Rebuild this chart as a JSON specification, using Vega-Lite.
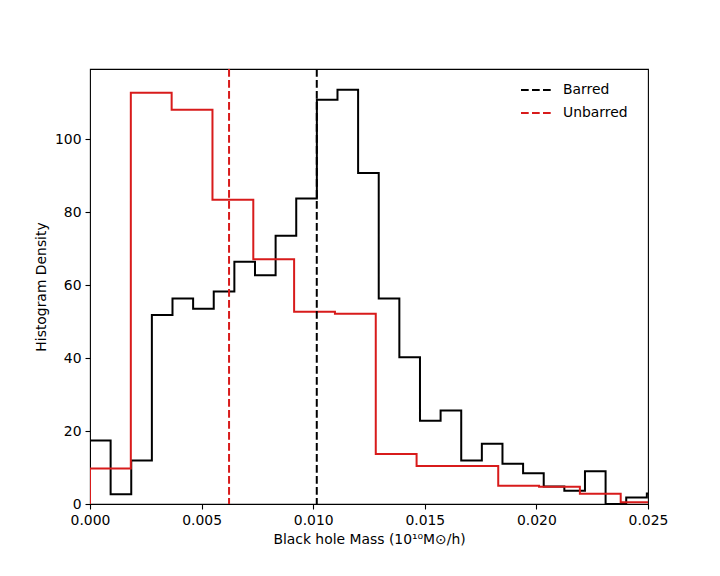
{
  "$schema": "https://vega.github.io/schema/vega-lite/v6.json",
  "width": 558,
  "height": 435,
  "autosize": {"type": "none"},
  "padding": {"left": 90, "top": 69, "right": 72, "bottom": 72},
  "background": "white",
  "config": {
    "font": "DejaVu Sans",
    "view": {"stroke": "black", "strokeWidth": 1.1},
    "axis": {
      "domain": false,
      "grid": false,
      "labelFlush": false,
      "tickColor": "black",
      "tickSize": 5,
      "tickWidth": 1.1,
      "labelColor": "black",
      "labelFontSize": 13.9,
      "labelPadding": 4,
      "titleColor": "black",
      "titleFontSize": 13.9,
      "titleFontWeight": "normal"
    },
    "legend": {
      "labelFontSize": 13.9,
      "labelColor": "black"
    }
  },
  "datasets": {
    "hist": [
      {"series": "Barred", "x": 0, "density": 0},
      {"series": "Barred", "x": 0, "density": 17.4},
      {"series": "Barred", "x": 0.000924, "density": 2.7},
      {"series": "Barred", "x": 0.001848, "density": 11.9},
      {"series": "Barred", "x": 0.002772, "density": 51.8},
      {"series": "Barred", "x": 0.003696, "density": 56.3},
      {"series": "Barred", "x": 0.00462, "density": 53.5},
      {"series": "Barred", "x": 0.005544, "density": 58.2},
      {"series": "Barred", "x": 0.006468, "density": 66.4},
      {"series": "Barred", "x": 0.007392, "density": 62.7},
      {"series": "Barred", "x": 0.008316, "density": 73.5},
      {"series": "Barred", "x": 0.00924, "density": 83.7},
      {"series": "Barred", "x": 0.010164, "density": 110.8},
      {"series": "Barred", "x": 0.011088, "density": 113.5},
      {"series": "Barred", "x": 0.012012, "density": 90.7},
      {"series": "Barred", "x": 0.012936, "density": 56.3},
      {"series": "Barred", "x": 0.01386, "density": 40.2},
      {"series": "Barred", "x": 0.014784, "density": 22.8},
      {"series": "Barred", "x": 0.015708, "density": 25.6},
      {"series": "Barred", "x": 0.016632, "density": 11.9},
      {"series": "Barred", "x": 0.017556, "density": 16.5},
      {"series": "Barred", "x": 0.01848, "density": 11.0},
      {"series": "Barred", "x": 0.019404, "density": 8.4},
      {"series": "Barred", "x": 0.020328, "density": 4.8},
      {"series": "Barred", "x": 0.021252, "density": 3.6},
      {"series": "Barred", "x": 0.022176, "density": 9.0},
      {"series": "Barred", "x": 0.0231, "density": 0},
      {"series": "Barred", "x": 0.024024, "density": 1.8},
      {"series": "Barred", "x": 0.024948, "density": 2.9},
      {"series": "Barred", "x": 0.025872, "density": 2.9},
      {"series": "Barred", "x": 0.025872, "density": 0},
      {"series": "Unbarred", "x": 0, "density": 0},
      {"series": "Unbarred", "x": 0, "density": 9.7},
      {"series": "Unbarred", "x": 0.001829, "density": 112.7},
      {"series": "Unbarred", "x": 0.003658, "density": 108.0},
      {"series": "Unbarred", "x": 0.005487, "density": 83.4},
      {"series": "Unbarred", "x": 0.007316, "density": 67.1},
      {"series": "Unbarred", "x": 0.009145, "density": 52.7},
      {"series": "Unbarred", "x": 0.010974, "density": 52.1},
      {"series": "Unbarred", "x": 0.012803, "density": 13.7},
      {"series": "Unbarred", "x": 0.014632, "density": 10.4},
      {"series": "Unbarred", "x": 0.016461, "density": 10.4},
      {"series": "Unbarred", "x": 0.01829, "density": 5.0},
      {"series": "Unbarred", "x": 0.020119, "density": 4.7},
      {"series": "Unbarred", "x": 0.021948, "density": 2.8},
      {"series": "Unbarred", "x": 0.023777, "density": 0.5},
      {"series": "Unbarred", "x": 0.025606, "density": 0.5},
      {"series": "Unbarred", "x": 0.025606, "density": 0}
    ],
    "medians": [
      {"series": "Barred", "x": 0.01016},
      {"series": "Unbarred", "x": 0.00623}
    ]
  },
  "encoding": {
    "x": {
      "field": "x",
      "type": "quantitative",
      "scale": {"domain": [0, 0.025], "nice": false, "zero": false},
      "axis": {
        "title": "Black hole Mass (10¹⁰M⊙/h)",
        "values": [0, 0.005, 0.01, 0.015, 0.02, 0.025],
        "format": ".3f",
        "titlePadding": 6
      }
    },
    "color": {
      "field": "series",
      "type": "nominal",
      "scale": {"domain": ["Barred", "Unbarred"], "range": ["black", "#d81b1b"]},
      "legend": {
        "title": null,
        "orient": "none",
        "legendX": 430,
        "legendY": 5,
        "symbolType": "stroke",
        "symbolSize": 900,
        "symbolStrokeWidth": 2,
        "symbolDash": [7.7, 3.3],
        "labelOffset": 11,
        "rowPadding": -10
      }
    }
  },
  "layer": [
    {
      "data": {"name": "hist"},
      "mark": {"type": "line", "interpolate": "step-after", "strokeWidth": 2, "clip": true},
      "encoding": {
        "y": {
          "field": "density",
          "type": "quantitative",
          "scale": {"domain": [0, 119.2], "nice": false},
          "axis": {
            "title": "Histogram Density",
            "values": [0, 20, 40, 60, 80, 100],
            "titlePadding": 6
          }
        },
        "order": {"value": null}
      }
    },
    {
      "data": {"name": "medians"},
      "mark": {"type": "rule", "strokeWidth": 2, "strokeDash": [7.7, 3.3]},
      "encoding": {}
    }
  ]
}
